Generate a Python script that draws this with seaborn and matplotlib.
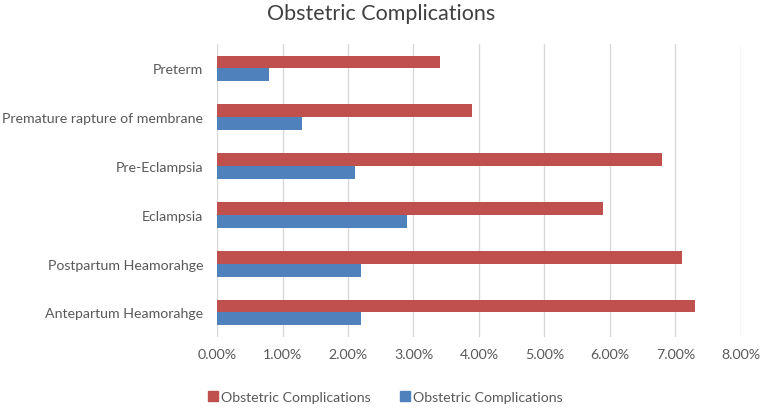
import pandas as pd
import matplotlib
matplotlib.use("Agg")
import matplotlib.pyplot as plt
import seaborn as sns
from matplotlib.ticker import FuncFormatter, MultipleLocator
from matplotlib.patches import Patch

# 数据 (百分比)
categories = ["Preterm", "Premature rapture of membrane", "Pre-Eclampsia",
              "Eclampsia", "Postpartum Heamorahge", "Antepartum Heamorahge"]
red_values = [3.4, 3.9, 6.8, 5.9, 7.1, 7.3]
blue_values = [0.8, 1.3, 2.1, 2.9, 2.2, 2.2]
series_label = "Obstetric Complications"

red = "#C0504D"
blue = "#4F81BD"
text_col = "#595959"

df = pd.DataFrame({
    "category": categories * 2,
    "value": red_values + blue_values,
    "series": ["s1"] * len(categories) + ["s2"] * len(categories),
})

sns.set_style("white")
plt.rcParams['font.family'] = ['Lato', 'DejaVu Sans']

fig = plt.figure(figsize=(7.62, 4.10), dpi=100)
ax = fig.add_axes([0.2848, 0.176, 0.6876, 0.714])

sns.barplot(data=df, y="category", x="value", hue="series",
            hue_order=["s1", "s2"], order=categories,
            palette={"s1": red, "s2": blue}, orient="h", saturation=1,
            width=0.53, gap=0, linewidth=0, legend=False, ax=ax)

ax.set_xlim(0, 8)
ax.xaxis.set_major_locator(MultipleLocator(1))
ax.xaxis.set_major_formatter(FuncFormatter(lambda v, p: f"{v:.2f}%"))
ax.grid(axis="x", color="#D9D9D9", linewidth=1)
ax.set_axisbelow(True)
for s in ax.spines.values():
    s.set_visible(False)
ax.tick_params(axis="both", length=0, labelsize=10.2, colors=text_col)
ax.tick_params(axis="y", pad=10)
ax.tick_params(axis="x", pad=8)
ax.set_xlabel("")
ax.set_ylabel("")

fig.suptitle("Obstetric Complications", fontsize=15.5, color="#404040", y=0.99)

handles = [Patch(color=red, label=series_label), Patch(color=blue, label=series_label)]
fig.legend(handles=handles, loc="center", bbox_to_anchor=(0.506, 0.03), ncol=2,
           frameon=False, fontsize=10.2, handlelength=0.7, handleheight=0.7,
           handletextpad=0.2, columnspacing=2.1, labelcolor=text_col)

fig.savefig("out.png", dpi=100)
